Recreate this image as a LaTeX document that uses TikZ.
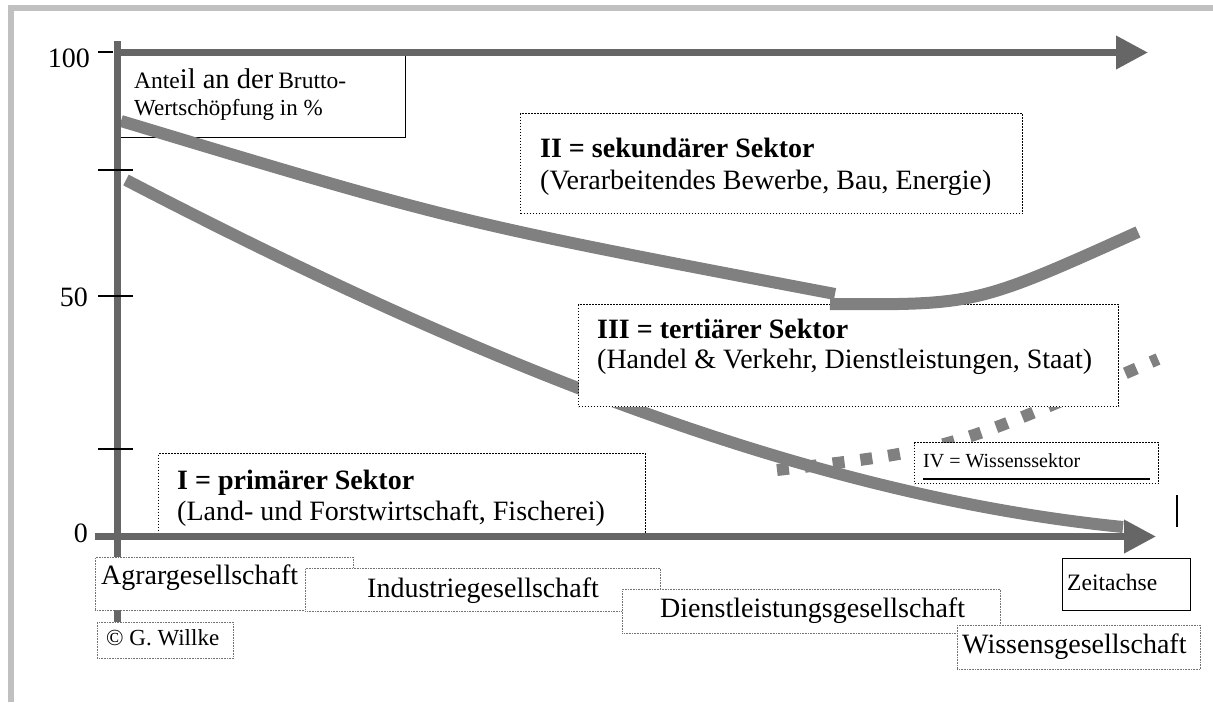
\documentclass[tikz,border=0pt]{standalone}
\usepackage{fontspec}
\setmainfont{Liberation Serif}
\usetikzlibrary{arrows.meta}
\definecolor{axisgray}{HTML}{666666}
\definecolor{curvegray}{HTML}{808080}
\definecolor{framegray}{HTML}{C0C0C0}
\begin{document}
\begin{tikzpicture}[x=1pt,y=-1pt,
  axisline/.style={line width=7pt, draw=axisgray},
  axisarrow/.style={axisline, -{Triangle[length=32pt,width=32pt]}},
  curveline/.style={line width=12pt, draw=curvegray},
  tickline/.style={line width=1.3pt, draw=black},
  sectorbox/.style={draw=black, fill=white, line width=1.2pt, dash pattern=on 1.2pt off 1.8pt, inner sep=0pt, anchor=north west},
  socbox/.style={draw=black!55, fill=white, line width=0.8pt, dash pattern=on 0.8pt off 0.8pt, inner sep=0pt, anchor=north west},
  solidbox/.style={draw=black, fill=white, line width=1.3pt, inner sep=0pt, anchor=north west},
  lbl/.style={anchor=base west, inner sep=0pt, font=\fontsize{28}{32}\selectfont},
  blbl/.style={anchor=base west, inner sep=0pt, font=\fontsize{28}{32}\selectfont\bfseries},
  numlbl/.style={anchor=base east, inner sep=0pt, font=\fontsize{28}{32}\selectfont},
]
\useasboundingbox (0,0) rectangle (1213,702);
% frame
\draw[framegray, line width=6pt] (10.5,702) -- (10.5,8) -- (1213,8);

% lower curve (I)
\coordinate (c1a) at (126,180);
\coordinate (c1b) at (1123,527);
\draw[curveline] (c1a) .. controls (456,351.6) and (793,494) .. (c1b);

% dashed IV curve
\coordinate (ivstart) at (777,470);
\coordinate (ivend) at (1158,359);
\draw[curvegray, line width=12pt, dash pattern=on 12pt off 16pt] (ivstart) .. controls (950,450) .. (ivend);

% boxes
\node[solidbox, minimum width=287pt, minimum height=85pt] (anteilbox) at (118,52) {};
\node[sectorbox, minimum width=502pt, minimum height=100pt] (boxII) at (520,113) {};
\node[sectorbox, minimum width=487pt, minimum height=84pt] (boxI) at (158,453) {};
\node[sectorbox, minimum width=540pt, minimum height=102pt] (boxIII) at (578,304) {};
\node[sectorbox, minimum width=244pt, minimum height=41pt] (boxIV) at (914,442) {};

% texts in boxes
\node[anchor=base west, inner sep=0pt] (anteil1) at (134,88) {{\fontsize{23.5}{27}\selectfont Ante}{\fontsize{28.5}{32}\selectfont il an der}\hspace{5pt}{\fontsize{23.5}{27}\selectfont Brutto-}};
\node[anchor=base west, inner sep=0pt, font=\fontsize{23}{27}\selectfont] (anteil2) at (134,115) {Wertschöpfung in \%};
\node[blbl] (IIa) at (540,157) {II = sekundärer Sektor};
\node[lbl] (IIb) at (540,189) {(Verarbeitendes Bewerbe, Bau, Energie)};
\node[blbl] (IIIa) at (597,338) {III = tertiärer Sektor};
\node[lbl] (IIIb) at (597,368) {(Handel \& Verkehr, Dienstleistungen, Staat)};
\node[blbl] (Ia) at (177,489) {I = primärer Sektor};
\node[lbl] (Ib) at (177,520) {(Land- und Forstwirtschaft, Fischerei)};
\node[anchor=base west, inner sep=0pt, font=\fontsize{20}{24}\selectfont] (IVa) at (923,467) {IV = Wissenssektor};
\coordinate (ulA) at (923,479);
\coordinate (ulB) at (1150,479);
\draw[line width=1.2pt] (ulA) -- (ulB);

% upper curve (II)
\coordinate (c2a) at (121,121);
\coordinate (c2b) at (835,294);
\draw[curveline] (c2a) .. controls (456,222) .. (c2b);
\coordinate (c2c) at (830,304);
\coordinate (c2d) at (1138,232);
\draw[curveline] (c2c) .. controls (976,305) .. (c2d);

% axes
\coordinate (yaxtop) at (117,41);
\coordinate (yaxbot) at (117,622);
\draw[axisline] (yaxtop) -- (yaxbot);
\coordinate (topstart) at (114,52.5);
\coordinate (toptip) at (1148,52.5);
\draw[axisarrow] (topstart) -- (toptip);
\coordinate (botstart) at (95,536.5);
\coordinate (bottip) at (1156,536.5);
\draw[axisarrow] (botstart) -- (bottip);

% ticks
\coordinate (t100a) at (98,52); \coordinate (t100b) at (113,52);
\draw[tickline] (t100a) -- (t100b);
\coordinate (t75a) at (98,170); \coordinate (t75b) at (133,170);
\draw[tickline] (t75a) -- (t75b);
\coordinate (t50a) at (98,296); \coordinate (t50b) at (133,296);
\draw[tickline] (t50a) -- (t50b);
\coordinate (t25a) at (98,449); \coordinate (t25b) at (133,449);
\draw[tickline] (t25a) -- (t25b);
\node[numlbl] (n100) at (90,67) {100};
\node[numlbl] (n50) at (88,306) {50};
\node[numlbl] (n0) at (88,542) {0};

% society boxes
\node[socbox, minimum width=258pt, minimum height=53pt] (agrarbox) at (95,557) {};
\node[lbl] (agrar) at (101,584) {Agrargesellschaft};
\node[socbox, minimum width=355pt, minimum height=43pt] (indbox) at (305,568) {};
\node[lbl] (ind) at (367,597) {Industriegesellschaft};
\node[socbox, minimum width=378pt, minimum height=44pt] (dlbox) at (622,589) {};
\node[lbl] (dl) at (660,617) {Dienstleistungsgesellschaft};
\node[socbox, minimum width=243pt, minimum height=44pt] (wbox) at (957,625) {};
\node[lbl] (wg) at (962,653) {Wissensgesellschaft};
\node[socbox, minimum width=136pt, minimum height=36pt] (cbox) at (97,622) {};
\node[anchor=base west, inner sep=0pt, font=\fontsize{23}{27}\selectfont] (copy) at (106,645) {© G. Willke};
\node[solidbox, minimum width=128pt, minimum height=52pt] (zbox) at (1062,558) {};
\node[anchor=base west, inner sep=0pt, font=\fontsize{23.5}{27}\selectfont] (zeit) at (1067,590) {Zeitachse};

% small vertical mark
\coordinate (vmA) at (1177,495);
\coordinate (vmB) at (1177,527);
\draw[line width=2pt] (vmA) -- (vmB);
\end{tikzpicture}
\end{document}
